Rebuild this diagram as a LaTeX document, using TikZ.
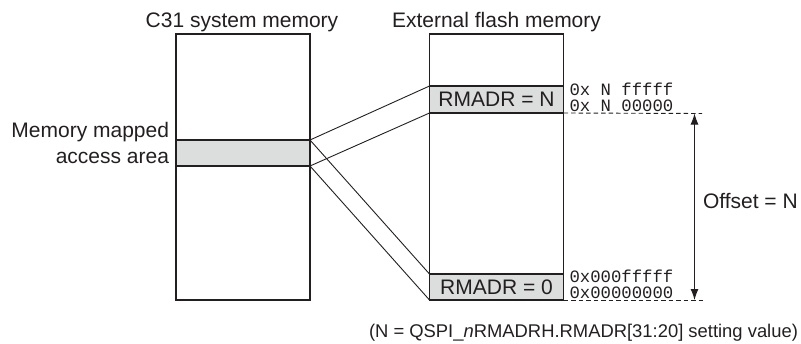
\documentclass[tikz,border=0pt]{standalone}
\usepackage{fontspec}
\setmainfont{Liberation Sans}
\newfontfamily\hexfont{Liberation Mono}
\usetikzlibrary{arrows.meta}
\definecolor{ink}{HTML}{231F20}
\definecolor{bandgray}{HTML}{DCDDDD}
\begin{document}
\begin{tikzpicture}[x=1pt,y=-1pt,
  every node/.style={inner sep=0pt,outer sep=0pt,text=ink},
  membox/.style={draw=ink,line width=1.3pt,minimum width=134pt,minimum height=266pt,anchor=north west},
  bandbox/.style={draw=ink,line width=1.3pt,fill=bandgray,minimum width=134pt,anchor=north west,font=\fontsize{21}{25}\selectfont},
  maintext/.style={font=\fontsize{21}{25}\selectfont},
  hextext/.style={font=\hexfont\fontsize{17.3}{16}\selectfont,anchor=base west,align=left},
  link/.style={draw=ink,line width=0.9pt},
  guide/.style={draw=ink,line width=0.9pt,dash pattern=on 4.5pt off 3pt},
  span/.style={draw=ink,line width=1pt,{Latex[length=11pt,width=8pt]}-{Latex[length=11pt,width=8pt]}}]
\useasboundingbox (0,0) rectangle (801,343);
% memories
\node[membox] (sys) at (176,34) {};
\node[membox] (flash) at (429.5,34) {};
\node[bandbox,minimum height=26pt] (mma) at (176,140) {};
\node[bandbox,minimum height=27pt] (rmn) at (429.5,86) {RMADR = N};
\node[bandbox,minimum height=26pt] (rm0) at (429.5,274) {RMADR = 0};
% titles
\node[maintext,anchor=base] (t1) at (242,27) {C31 system memory};
\node[maintext,anchor=base] (t2) at (496.5,27) {External flash memory};
\node[maintext,anchor=base east,align=right] (l1) at (169,137) {Memory mapped};
\node[maintext,anchor=base east,align=right] (l2) at (169,163) {access area};
% mapping lines
\draw[link] (mma.north east) -- (rmn.north west);
\draw[link] (mma.south east) -- (rmn.south west);
\draw[link] (mma.north east) -- (rm0.north west);
\draw[link] (mma.south east) -- (rm0.south west);
% addresses
\node[hextext] (h1) at (569.5,111.5) {0x N fffff\\0x N 00000};
\node[hextext] (h3) at (569.5,298) {0x000fffff\\0x00000000};
% guides
\coordinate (g1) at (702,113.5);
\coordinate (g2) at (705,300);
\draw[guide] (rmn.south east) -- (g1);
\draw[guide] (rm0.south east) -- (g2);
\coordinate (a1) at (694.5,113.5);
\coordinate (a2) at (694.5,300);
\draw[span] (a2) -- (a1);
\node[maintext,anchor=base west] (off) at (703,208) {Offset = N};
\node[font=\fontsize{18.4}{22}\selectfont,anchor=base west] (cap) at (369,337) {(N = QSPI\_\textit{n}RMADRH.RMADR[31:20] setting value)};
\end{tikzpicture}
\end{document}
